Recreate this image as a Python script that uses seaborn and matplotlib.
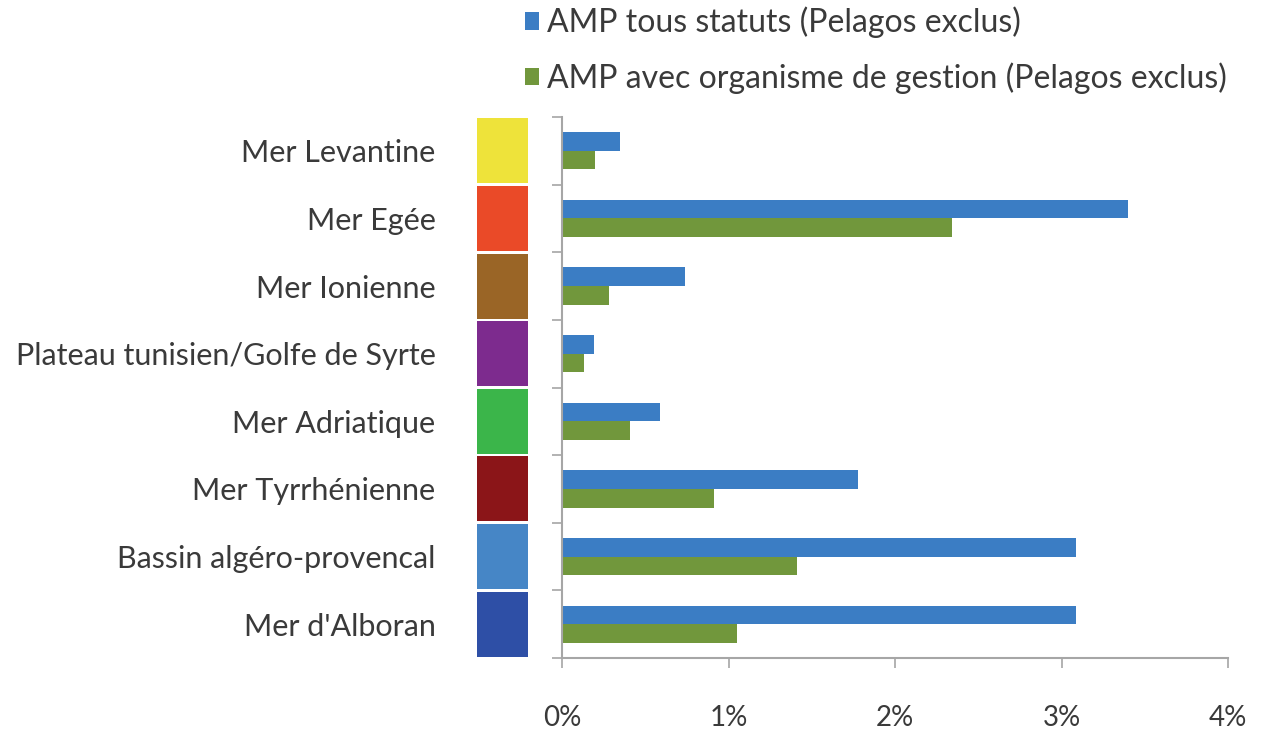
import matplotlib
matplotlib.use("Agg")
import matplotlib.pyplot as plt
import matplotlib.ticker as mticker
import numpy as np
import pandas as pd
import seaborn as sns

# Sub-regions of the Mediterranean, top to bottom
regions = [
    "Mer Levantine",
    "Mer Egée",
    "Mer Ionienne",
    "Plateau tunisien/Golfe de Syrte",
    "Mer Adriatique",
    "Mer Tyrrhénienne",
    "Bassin algéro-provencal",
    "Mer d'Alboran",
]

# Share of surface covered (in %)
amp_all = [0.35, 3.40, 0.74, 0.19, 0.59, 1.78, 3.09, 3.09]
amp_managed = [0.20, 2.34, 0.28, 0.13, 0.41, 0.91, 1.41, 1.05]

series_names = [
    "AMP tous statuts (Pelagos exclus)",
    "AMP avec organisme de gestion (Pelagos exclus)",
]
series_colors = ["#3B7DC4", "#71973C"]

# Colour key for each sub-region
region_colors = ["#EEE33A", "#EA4A28", "#9A6526", "#7D2B8E",
                 "#3BB54A", "#8B1518", "#4686C6", "#2E4FA6"]

x_ticks = [0, 1, 2, 3, 4]

df = pd.DataFrame({
    "region": regions * 2,
    "value": amp_all + amp_managed,
    "series": [series_names[0]] * len(regions) + [series_names[1]] * len(regions),
})

sns.set_theme(style="white")
plt.rcParams["font.family"] = ["Lato", "DejaVu Sans"]

W, H = 1268, 731
fig = plt.figure(figsize=(W / 100, H / 100), dpi=100)

top_px, bot_px = 117, 658
ax = fig.add_axes([562 / W, 1 - bot_px / H, (1228 - 562) / W, (bot_px - top_px) / H])
kax = fig.add_axes([477 / W, 1 - bot_px / H, (528 - 477) / W, (bot_px - top_px) / H])

sns.barplot(data=df, x="value", y="region", hue="series", order=regions,
            hue_order=series_names, palette=series_colors, width=0.55,
            orient="h", ax=ax, saturation=1, legend=True, linewidth=0)

# Colour key column
key_df = pd.DataFrame({"region": regions, "one": [1] * len(regions)})
sns.barplot(data=key_df, x="one", y="region", hue="region", order=regions,
            palette=region_colors, width=0.96, orient="h", ax=kax,
            saturation=1, legend=False, linewidth=0)
kax.set_xlim(0, 1)
kax.set_ylim(len(regions) - 0.5, -0.5)
kax.axis("off")

# Axes styling
text_color = "#3A3A3A"
axis_color = "#A6A6A6"
ax.set_xlim(0, 4)
ax.set_ylim(len(regions) - 0.5, -0.5)
ax.set_xticks(x_ticks)
ax.xaxis.set_major_formatter(mticker.FuncFormatter(lambda v, p: f"{v:.0f}%"))
ax.set_xlabel("")
ax.set_ylabel("")
for side in ["top", "right"]:
    ax.spines[side].set_visible(False)
for side in ["left", "bottom"]:
    ax.spines[side].set_color(axis_color)
    ax.spines[side].set_linewidth(1.5)

ax.set_yticks(range(len(regions)))
ax.set_yticks(np.arange(-0.5, len(regions), 1.0), minor=True)
ax.tick_params(axis="y", which="major", left=True, length=0, pad=91,
               labelsize=22, labelcolor=text_color)
ax.tick_params(axis="y", which="minor", left=True, length=7, width=1.2,
               color=axis_color, direction="out")
ax.tick_params(axis="x", which="major", bottom=True, length=7, width=1.2,
               color=axis_color, direction="out", pad=27, labelsize=20,
               labelcolor=text_color)

# Legend at top
handles, labels = ax.get_legend_handles_labels()
ax.get_legend().remove()
fig.legend(handles, labels, loc="upper left", bbox_to_anchor=(496 / W, 1 + 22 / H),
           frameon=False, fontsize=23, labelcolor=text_color,
           handlelength=0.45, handleheight=0.45, handletextpad=0.25,
           labelspacing=0.76)

fig.savefig("out.png", dpi=100, facecolor="white")
